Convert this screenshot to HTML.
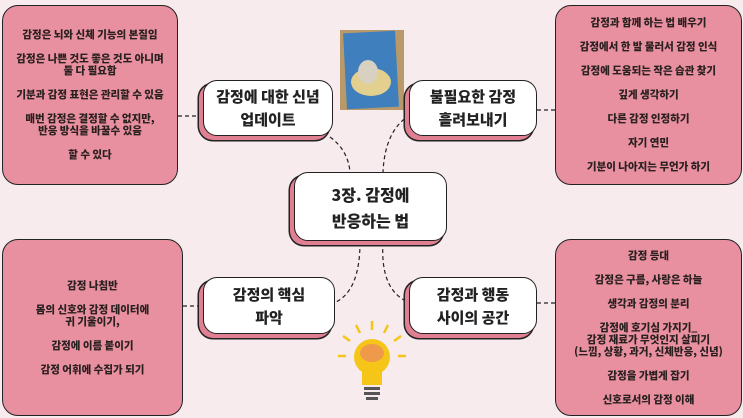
<!DOCTYPE html>
<html><head><meta charset="utf-8"><style>
body{margin:0;width:743px;height:418px;background:#f7ebee;position:relative;overflow:hidden;font-family:"Noto Sans CJK KR","Liberation Sans",sans-serif;color:#222}
.box{position:absolute;background:#e8909f;border:1.5px solid #222;border-radius:16px;box-sizing:border-box;font-size:10.5px;font-weight:900;text-align:center;line-height:12px;display:flex;flex-direction:column;justify-content:center;color:#2a2020}
.box p{margin:0 0 12px}
.box p:last-child{margin:0}
.node{position:absolute;box-sizing:border-box;background:#fff;border:1.5px solid #222;border-radius:14px;font-size:15px;font-weight:900;text-align:center;line-height:23px;display:flex;align-items:center;justify-content:center;box-shadow:-4px 4px 0 #e07f91,-4px 4px 0 1.5px #222}
</style></head><body>
<svg width="743" height="418" style="position:absolute;left:0;top:0">
<g fill="none" stroke="#222" stroke-width="1.2" stroke-dasharray="4,3">
<path d="M178 116 H203"/>
<path d="M330 137 Q348 150 350 172"/>
<path d="M410 115 Q385 130 383 172"/>
<path d="M360 242 Q360 290 336 302"/>
<path d="M383 242 Q380 290 408 302"/>
<path d="M537 110 H555"/>
<path d="M537 303 H555"/>
<path d="M183 306 H203"/>
</g>
<rect x="340" y="30" width="64" height="80" fill="#b89a6a"/>
<rect x="345" y="32" width="52" height="76" fill="#3f7fbd" transform="rotate(-3 371 70)"/>
<ellipse cx="371" cy="82" rx="20" ry="14" fill="#e3cf8e"/>
<ellipse cx="368" cy="72" rx="10" ry="12" fill="#d8d0c0"/>
<g stroke="#f5c518" stroke-width="2.5">
<line x1="372" y1="330" x2="372" y2="321"/><line x1="360" y1="333" x2="356" y2="325"/><line x1="384" y1="333" x2="388" y2="325"/>
<line x1="350" y1="341" x2="343" y2="336"/><line x1="394" y1="341" x2="401" y2="336"/><line x1="346" y1="356" x2="338" y2="356"/><line x1="398" y1="356" x2="406" y2="356"/>
</g>
<circle cx="372" cy="357" r="18" fill="#f5c518"/>
<rect x="362" y="365" width="20" height="20" fill="#f5c518"/>
<ellipse cx="372" cy="353" rx="12" ry="9" fill="#ef9a4a"/>
<rect x="364" y="387" width="16" height="3" fill="#555"/><rect x="364" y="392" width="16" height="3" fill="#555"/><rect x="366" y="397" width="12" height="3" fill="#555"/>
</svg>
<div class="box" style="left:2px;top:5px;width:176px;height:180px"><p>감정은 뇌와 신체 기능의 본질임</p><p>감정은 나쁜 것도 좋은 것도 아니며<br>둘 다 필요함</p><p>기분과 감정 표현은 관리할 수 있음</p><p>매번 감정은 결정할 수 없지만,<br>반응 방식을 바꿀수 있음</p><p>할 수 있다</p></div>
<div class="box" style="left:555px;top:5px;width:187px;height:180px"><p>감정과 함께 하는 법 배우기</p><p>감정에서 한 발 물러서 감정 인식</p><p>감정에 도움되는 작은 습관 찾기</p><p>깊게 생각하기</p><p>다른 감정 인정하기</p><p>자기 연민</p><p>기분이 나아지는 무언가 하기</p></div>
<div class="box" style="left:2px;top:239px;width:181px;height:177px"><p>감정 나침반</p><p>몸의 신호와 감정 데이터에<br>귀 기울이기,</p><p>감정에 이름 붙이기</p><p>감정 어휘에 수집가 되기</p></div>
<div class="box" style="left:555px;top:239px;width:187px;height:177px"><p>감정 등대</p><p>감정은 구름, 사랑은 하늘</p><p>생각과 감정의 분리</p><p>감정에 호기심 가지기_<br>감정 재료가 무엇인지 살피기<br>(느낌, 상황, 과거, 신체반응, 신념)</p><p>감정을 가볍게 잡기</p><p>신호로서의 감정 이해</p></div>
<div class="node" style="left:203px;top:80px;width:130px;height:56px">감정에 대한 신념<br>업데이트</div>
<div class="node" style="left:409px;top:80px;width:128px;height:56px">불필요한 감정<br>흘려보내기</div>
<div class="node" style="left:294px;top:172px;width:153px;height:69px;font-size:16px;line-height:26px">3장. 감정에<br>반응하는 법</div>
<div class="node" style="left:203px;top:277px;width:132px;height:57px">감정의 핵심<br>파악</div>
<div class="node" style="left:409px;top:277px;width:128px;height:57px">감정과 행동<br>사이의 공간</div>
</body></html>
